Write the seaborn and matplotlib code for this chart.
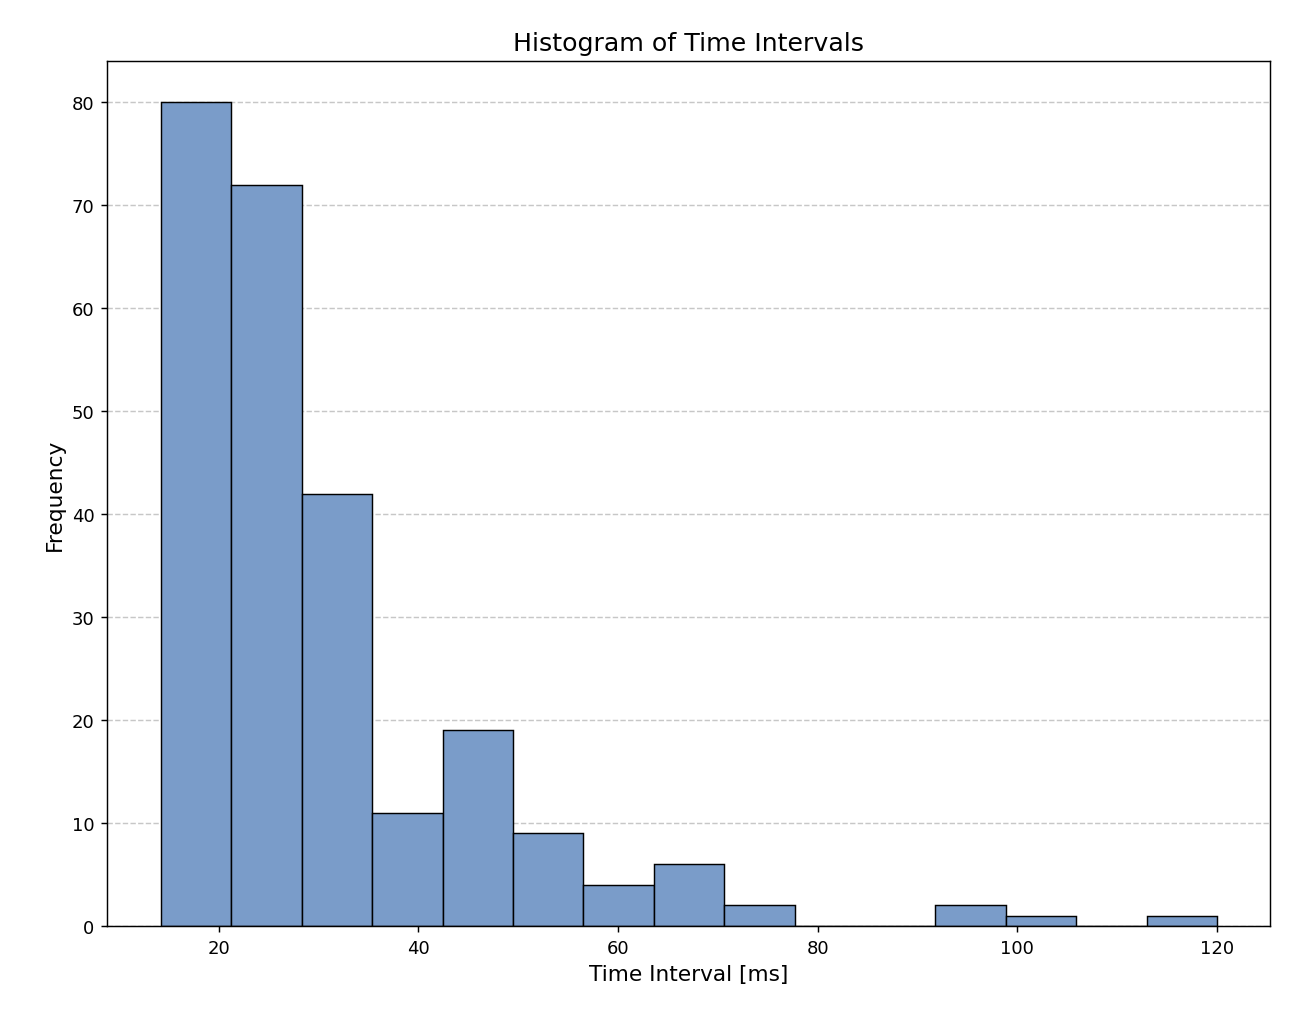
import matplotlib
matplotlib.use("Agg")
import matplotlib.pyplot as plt
import seaborn as sns
import numpy as np

bin_start = 14.2
bin_end = 120.0
counts = [80, 72, 42, 11, 19, 9, 4, 6, 2, 0, 0, 2, 1, 0, 1]

n = len(counts)
w = (bin_end - bin_start) / n
centers = [bin_start + w * (i + 0.5) for i in range(n)]

fig = plt.figure(figsize=(10, 7.846), dpi=130)
ax = fig.add_axes([107/1300, 1 - 927/1020, (1270-107)/1300, (927-62)/1020])
sns.histplot(x=centers, weights=counts, bins=n, binrange=(bin_start, bin_end),
             color="#7A9CC9", alpha=1, edgecolor="black", linewidth=0.8, ax=ax)
ax.set_ylim(0, 84)
ax.set_xlim(8.8, 125.3)
ax.grid(axis="y", linestyle="--", alpha=0.7)
ax.set_axisbelow(True)
ax.set_title("Histogram of Time Intervals", fontsize=14)
ax.set_xlabel("Time Interval [ms]", fontsize=12)
ax.set_ylabel("Frequency", fontsize=12)
fig.savefig("out.png", dpi=130)
